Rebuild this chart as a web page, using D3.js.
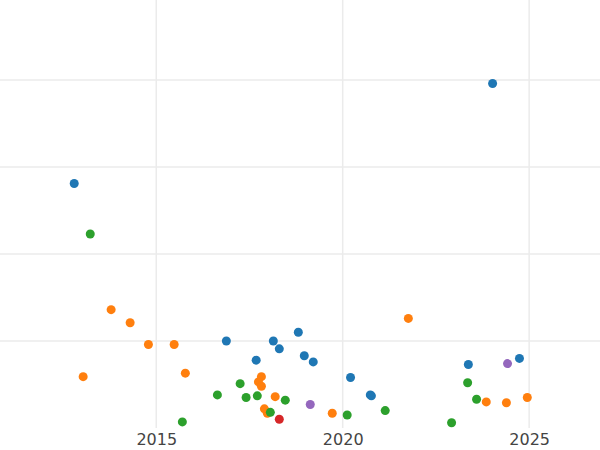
<!DOCTYPE html>
<html><head><meta charset="utf-8">
<script src="https://cdn.jsdelivr.net/npm/d3@7"></script>
<style>body{margin:0;background:#fff}</style>
</head><body>
<div id="chart"></div>
<script>
// series: [year, value]
var blue = [[2012.80,281],[2024.02,396],[2016.88,100],[2017.68,78],[2018.14,100],[2018.30,91],
  [2018.81,110],[2018.97,83],[2019.21,76],[2020.21,58],[2020.74,38],[2020.77,37],[2023.37,73],[2024.74,80]];
var orange = [[2013.04,59],[2013.79,136],[2014.30,121],[2014.79,96],[2015.48,96],[2015.78,63],
  [2017.82,59],[2017.74,53],[2017.82,48],[2017.90,22],[2017.98,17],[2018.19,36],[2019.72,17],
  [2021.76,126],[2023.85,30],[2024.39,29],[2024.95,35]];
var green = [[2013.23,223],[2015.70,7],[2016.64,38],[2017.25,51],[2017.41,35],[2017.71,37],
  [2018.06,18],[2018.46,32],[2020.12,15],[2021.14,20],[2022.92,6],[2023.35,52],[2023.59,33]];
var red = [[2018.30,10]];
var purple = [[2019.13,27],[2024.42,74]];
var xTicks = [2015, 2020, 2025];
var yGrid = [100, 200, 300, 400];

var width = 600, height = 450;
var svg = d3.select("#chart").append("svg")
    .attr("width", width)
    .attr("height", height);

var x = d3.scaleLinear().domain([2010.81, 2026.9]).range([0, width]);
var y = d3.scaleLinear().domain([0, 100]).range([428, 341]);

// gridlines
svg.append("g").selectAll("line").data(yGrid).enter().append("line")
    .attr("x1", 0).attr("x2", width)
    .attr("y1", function(d) { return y(d); })
    .attr("y2", function(d) { return y(d); })
    .style("stroke", "#ebebeb").style("stroke-width", 1.5);

svg.append("g").selectAll("line").data(xTicks).enter().append("line")
    .attr("x1", function(d) { return x(d); })
    .attr("x2", function(d) { return x(d); })
    .attr("y1", 0).attr("y2", 428)
    .style("stroke", "#ebebeb").style("stroke-width", 1.5);

// x axis labels
var xAxis = svg.append("g")
    .attr("transform", "translate(0,428)")
    .call(d3.axisBottom(x).tickValues(xTicks).tickFormat(d3.format("d")).tickSize(0).tickPadding(6));
xAxis.select(".domain").remove();
xAxis.selectAll("text")
    .style("font-family", "DejaVu Sans")
    .style("font-size", "16px")
    .style("fill", "#444");

var series = [
  {data: blue, color: "#1f77b4"},
  {data: orange, color: "#ff7f0e"},
  {data: green, color: "#2ca02c"},
  {data: red, color: "#d62728"},
  {data: purple, color: "#9467bd"}
];

series.forEach(function(s) {
  svg.append("g").selectAll("circle").data(s.data).enter().append("circle")
      .attr("cx", function(d) { return x(d[0]); })
      .attr("cy", function(d) { return y(d[1]); })
      .attr("r", 4.5)
      .style("fill", s.color);
});
</script>
</body></html>
